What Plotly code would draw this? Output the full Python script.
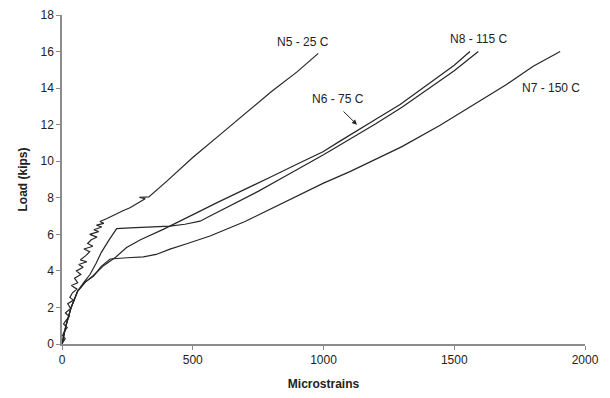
import plotly.graph_objects as go

# ---- data (microstrains, kips) ----
n5_x = [0, 12, 2, 9, 20, 6, 16, 28, 13, 33, 22, 44, 30, 40, 57, 36, 60, 48, 72, 55, 81, 64, 95, 70,
        92, 106, 84, 118, 98, 112, 134, 106, 140, 122, 152, 132, 160, 145, 170, 190, 210, 235, 260,
        290, 318, 296, 332, 400, 500, 600, 700, 800, 900, 980]
n5_y = [0, 0.3, 0.45, 0.7, 0.9, 1.1, 1.3, 1.5, 1.7, 1.95, 2.2, 2.4, 2.55, 2.8, 3.0, 3.2, 3.35, 3.6, 3.8,
        4.0, 4.2, 4.35, 4.5, 4.6, 4.85, 5.05, 5.2, 5.35, 5.5, 5.7, 5.85, 6.0, 6.15, 6.25, 6.4, 6.5, 6.6,
        6.7, 6.85, 7.0, 7.15, 7.3, 7.45, 7.7, 7.95, 8.02, 8.05, 8.9, 10.2, 11.4, 12.6, 13.8, 14.9, 15.9]

n6_x = [0, 15, 35, 60, 85, 107, 130, 150, 180, 209, 260, 330, 413, 470, 528, 566, 650, 750, 850,
        1000, 1100, 1200, 1300, 1400, 1500, 1592]
n6_y = [0, 1.0, 2.0, 2.9, 3.4, 3.8, 4.4, 5.0, 5.7, 6.31, 6.35, 6.38, 6.45, 6.55, 6.72, 7.0, 7.6, 8.35, 9.15,
        10.35, 11.2, 12.05, 12.95, 13.95, 14.95, 16.0]

n8_x = [0, 15, 35, 60, 90, 120, 160, 205, 247, 300, 387, 450, 528, 591, 700, 800, 900, 998,
        1063, 1113, 1200, 1293, 1400, 1500, 1560]
n8_y = [0, 1.0, 2.0, 2.9, 3.4, 3.75, 4.3, 4.75, 5.28, 5.7, 6.27, 6.7, 7.27, 7.72, 8.45, 9.15, 9.85, 10.52,
        11.1, 11.55, 12.3, 13.1, 14.2, 15.25, 16.0]

n7_x = [0, 15, 35, 60, 90, 120, 150, 184, 250, 311, 360, 413, 480, 528, 566, 700, 845, 1000, 1101,
        1200, 1300, 1446, 1600, 1700, 1802, 1905]
n7_y = [0, 1.0, 2.0, 2.9, 3.4, 3.7, 4.25, 4.65, 4.72, 4.77, 4.9, 5.19, 5.5, 5.75, 5.91, 6.7, 7.7, 8.8, 9.43,
        10.1, 10.8, 11.97, 13.3, 14.2, 15.2, 16.0]

x_ticks = [0, 500, 1000, 1500, 2000]
y_ticks = [0, 2, 4, 6, 8, 10, 12, 14, 16, 18]

labels = ["N5 - 25 C", "N6 - 75 C", "N8 - 115 C", "N7 - 150 C"]
label_x = [922, 1056, 1591, 1870]
label_y = [16.55, 13.4, 16.7, 14.0]

FONT = "Arial, Liberation Sans, sans-serif"
LINE = "#262626"

fig = go.Figure()
for xs, ys, name in [(n5_x, n5_y, labels[0]), (n6_x, n6_y, labels[1]),
                     (n8_x, n8_y, labels[2]), (n7_x, n7_y, labels[3])]:
    fig.add_trace(go.Scatter(x=xs, y=ys, mode="lines", name=name,
                             line=dict(color=LINE, width=1.2), showlegend=False))

for t, x, y in zip(labels, label_x, label_y):
    fig.add_annotation(x=x, y=y, text=t, showarrow=False,
                       font=dict(family=FONT, size=12, color="#222"))

# arrow for N6
fig.add_annotation(x=1128, y=12.0, ax=1071, ay=12.8, axref="x", ayref="y",
                   xref="x", yref="y", text="", showarrow=True,
                   arrowhead=2, arrowsize=1, arrowwidth=1, arrowcolor="#222")

axis_common = dict(showgrid=False, zeroline=False, showline=True, linecolor="#8c8c8c",
                   linewidth=1.5, ticks="outside", ticklen=4, tickcolor="#8c8c8c",
                   automargin=False, ticklabeloverflow="allow",
                   tickfont=dict(family=FONT, size=12, color="#222"))

fig.update_xaxes(range=[0, 2000], tickvals=x_ticks,
                 title=dict(text="<b>Microstrains</b>", font=dict(family=FONT, size=12, color="#222"),
                            standoff=13),
                 **axis_common)
fig.update_yaxes(range=[0, 18], tickvals=y_ticks,
                 title=dict(text="<b>Load (kips)</b>", font=dict(family=FONT, size=12, color="#222"),
                            standoff=10),
                 **axis_common)

# page body has an 8px margin, so the figure is offset by 8px
fig.update_layout(width=602, height=390, margin=dict(l=54, r=25, t=7, b=54),
                  plot_bgcolor="white", paper_bgcolor="white",
                  font=dict(family=FONT))

fig.write_html("out.html")
